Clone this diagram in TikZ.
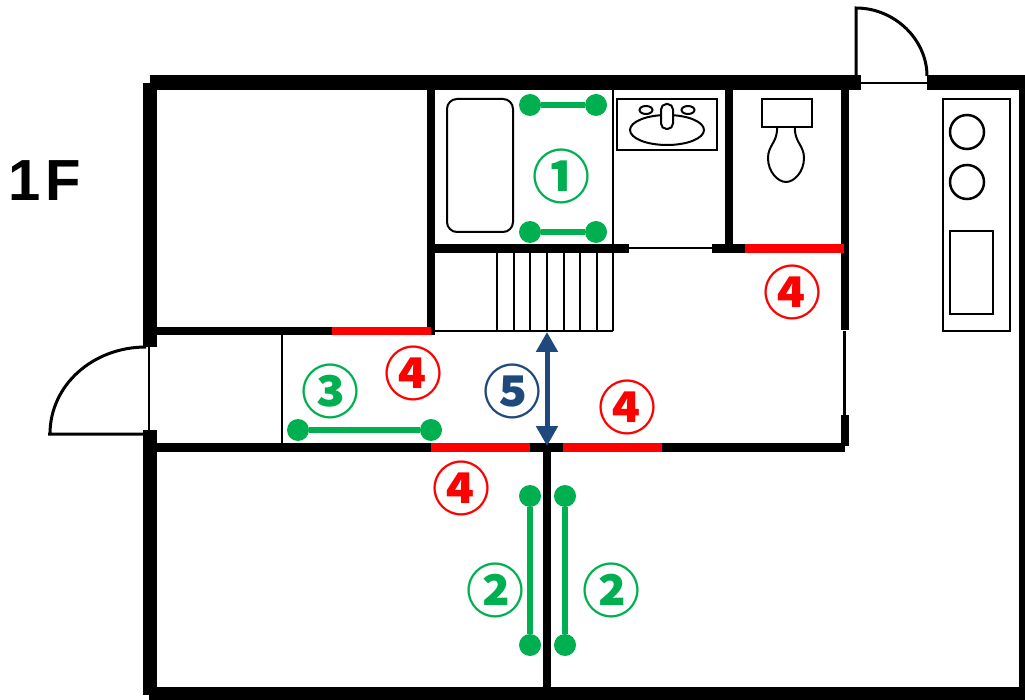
\documentclass[tikz,border=0pt]{standalone}
\usepackage{fontspec}
\setmainfont{Liberation Sans}
\newfontfamily\cjkfont{Noto Sans CJK JP}
\usetikzlibrary{arrows.meta}
\definecolor{mkgreen}{HTML}{00B050}
\definecolor{mkred}{HTML}{FF0000}
\definecolor{mkblue}{HTML}{1F497D}
\tikzset{
  outerwall/.style={line width=14pt,black},
  innerwall/.style={line width=8pt,black},
  redwall/.style={line width=9pt,mkred},
  thinline/.style={line width=2pt,black},
  fixture/.style={line width=2pt,black},
  greenbar/.style={line width=6.5pt,mkgreen},
  greendot/.style={circle,fill=mkgreen,minimum size=22pt,inner sep=0pt,outer sep=0pt},
  mark num/.style={font=\cjkfont\bfseries\fontsize{58}{58}\selectfont,inner sep=0pt},
}
\begin{document}
\begin{tikzpicture}[x=1pt,y=-1pt]
\useasboundingbox (0,0) rectangle (1025,700);
\fill[white] (0,0) rectangle (1025,700);
% thin lines
\draw[thinline] (149,347) -- (149,430);
\draw[thinline] (282,335) -- (282,443);
\draw[thinline] (613,90) -- (613,331);
\draw[thinline] (431,331) -- (613,331);
\foreach \x in {497,514,530,547,564,580,597}
  \draw[thinline] (\x,252) -- (\x,331);
\draw[thinline] (629,248) -- (712,248);
\draw[line width=3pt] (844,331) -- (844,415);
\draw[thinline] (860,83) -- (927,83);
% outer walls
\draw[line width=15pt] (149.5,82.5) -- (861,82.5);
\draw[line width=15pt] (927,82.5) -- (1025,82.5);
\draw[outerwall] (150,83) -- (150,347);
\draw[outerwall] (150,430) -- (150,695);
\draw[line width=13pt] (149,693.5) -- (1025,693.5);
\draw[line width=6pt] (1022,76) -- (1022,700);
% inner walls
\draw[innerwall] (150,331) -- (431,331);
\draw[line width=9pt] (150,447.5) -- (845,447.5);
\draw[innerwall] (431,90) -- (431,335);
\draw[line width=9pt] (427,248.5) -- (629,248.5);
\draw[line width=9pt] (712,248.5) -- (745,248.5);
\draw[innerwall] (729,90) -- (729,252);
\draw[innerwall] (845,90) -- (845,330);
\draw[innerwall] (845,415) -- (845,446);
\draw[innerwall] (547,443) -- (547,690);
% red walls
\draw[innerwall,mkred] (332,331) -- (431,331);
\draw[redwall] (431,447.5) -- (530,447.5);
\draw[redwall] (563,447.5) -- (662,447.5);
\draw[redwall] (745,248.5) -- (844,248.5);
% doors
\draw[line width=3pt] (856,76) -- (856,8) .. controls (895,8) and (927,40) .. (927,76);
\draw[line width=3pt] (146,347) .. controls (93,347) and (50,385) .. (50,434) -- (48,434) -- (143,434);
% bath
\draw[fixture,rounded corners=10pt] (447,99) rectangle (513,232);
% sink
\draw[fixture] (617,99) rectangle (717,150);
\draw[fixture] (667,130) ellipse [x radius=37,y radius=15];
\draw[fixture,fill=white,rounded corners=5.5pt] (661,104) rectangle (673,129);
\draw[fixture] (646,110) ellipse [x radius=6.5,y radius=4];
\draw[fixture] (688,110) ellipse [x radius=6.5,y radius=4];
% toilet
\draw[fixture] (762,99) rectangle (812,127);
\draw[fixture] (777,127) .. controls (778,142) and (768,145) .. (768,158)
  .. controls (768,172) and (778,182) .. (786,182)
  .. controls (794,182) and (804,172) .. (804,158)
  .. controls (804,145) and (794,142) .. (795,127);
% stove
\draw[line width=2.5pt] (943,99) rectangle (1010,331);
\draw[line width=2.5pt] (967,132) circle (17);
\draw[line width=2.5pt] (967,182) circle (17);
\draw[line width=2.5pt] (950,231) rectangle (993,314);
% green bars
\node[greendot] (a1) at (530,105) {};
\node[greendot] (a2) at (596,105) {};
\draw[greenbar] (a1) -- (a2);
\node[greendot] (b1) at (530,232) {};
\node[greendot] (b2) at (596,232) {};
\draw[greenbar] (b1) -- (b2);
\node[greendot] (c1) at (298,430) {};
\node[greendot] (c2) at (431,430) {};
\draw[greenbar] (c1) -- (c2);
\node[greendot] (d1) at (530,496) {};
\node[greendot] (d2) at (530,645) {};
\draw[greenbar] (d1) -- (d2);
\node[greendot] (e1) at (565,496) {};
\node[greendot] (e2) at (565,645) {};
\draw[greenbar] (e1) -- (e2);
% arrow
\coordinate (up) at (547,332);
\coordinate (dn) at (547,446);
\draw[line width=5pt,mkblue,{Triangle[width=21pt,length=20pt]}-{Triangle[width=21pt,length=20pt]}] (up) -- (dn);
% labels
\node[font=\bfseries\fontsize{58}{58}\selectfont,inner sep=0pt,anchor=base west] (floor) at (8.5,201) {1\kern5pt F};
\node[mark num,mkgreen] (n1) at (561,176) {①};
\node[mark num,mkgreen] (n2a) at (495,590) {②};
\node[mark num,mkgreen] (n2b) at (611,590) {②};
\node[mark num,mkgreen] (n3) at (330,391) {③};
\node[mark num,mkred] (n4a) at (413,373) {④};
\node[mark num,mkred] (n4b) at (627,407) {④};
\node[mark num,mkred] (n4c) at (461,488) {④};
\node[mark num,mkred] (n4d) at (792,292) {④};
\node[mark num,mkblue] (n5) at (512,391) {⑤};
\end{tikzpicture}
\end{document}
